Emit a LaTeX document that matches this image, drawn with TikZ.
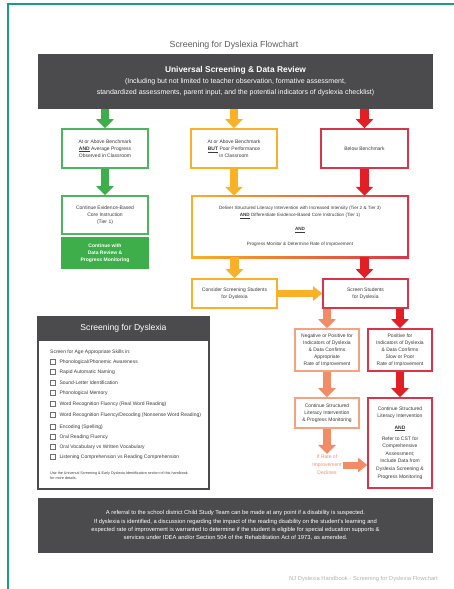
\documentclass[tikz,border=0pt]{standalone}
\usepackage{fontspec}
\setmainfont{Liberation Sans}
\usetikzlibrary{arrows.meta,calc,backgrounds,positioning}
\definecolor{teal1}{HTML}{1A9B86}
\definecolor{darkg}{HTML}{4B4B4D}
\definecolor{grn}{HTML}{3DAE49}
\definecolor{grnb}{HTML}{4DB560}
\definecolor{org}{HTML}{F9B128}
\definecolor{redA}{HTML}{E31F26}
\definecolor{crim}{HTML}{D8344B}
\definecolor{salm}{HTML}{F28C66}
\definecolor{salmb}{HTML}{F4A27F}
\definecolor{txt}{HTML}{3A3A3A}
\tikzset{
  box/.style={draw, line width=1.6pt, fill=white, align=center, inner sep=1pt, text=txt,
    font=\fontsize{5}{7}\selectfont},
  barrow/.style={line width=8.5pt, -{Triangle[width=17pt,length=9pt]}},
  harrow/.style={line width=7pt, -{Triangle[width=14pt,length=9pt]}},
  darkbox/.style={fill=darkg, text=white, align=center, inner sep=0pt},
  chkitem/.style={anchor=west, text=txt, inner sep=0pt, font=\fontsize{5}{6}\selectfont},
  cbox/.style={draw=darkg!80, line width=0.6pt, minimum size=5pt, inner sep=0pt},
}
\begin{document}
\begin{tikzpicture}[x=1pt,y=-1pt]
\useasboundingbox (0,0) rectangle (454,589);
\draw[teal1, line width=2pt] (7.5,589) -- (7.5,3.5) -- (454,3.5);

\node[font=\fontsize{8.8}{10}\selectfont, text=darkg!90] (title) at (234,45) {Screening for Dyslexia Flowchart};

\node[darkbox, minimum width=395pt, minimum height=55pt, font=\fontsize{7}{11}\selectfont] (hdr) at (235.5,81.5)
  {{\fontsize{8.4}{11}\selectfont\bfseries Universal Screening \& Data Review}\\
   (Including but not limited to teacher observation, formative assessment,\\
   standardized assessments, parent input, and the potential indicators of dyslexia checklist)};

% row 1
\node[box, draw=grnb, minimum width=86pt, minimum height=39pt] (g1) at (105,148.5)
  {At or Above Benchmark\\\underline{\textbf{AND}} Average Progress\\Observed in Classroom};
\node[box, draw=org, minimum width=86pt, minimum height=39pt] (o1) at (234,148.5)
  {At or Above Benchmark\\\underline{\textbf{BUT}} Poor Performance\\in Classroom};
\node[box, draw=crim, minimum width=87pt, minimum height=39pt] (r1) at (364.5,148.5)
  {Below Benchmark};

% row 2
\node[box, draw=grnb, minimum width=86pt, minimum height=38pt] (g2) at (105,215)
  {Continue Evidence-Based\\Core Instruction\\(Tier 1)};
\node[fill=grn, text=white, align=center, inner sep=0pt, minimum width=87.6pt, minimum height=32pt,
  font=\fontsize{5}{7}\selectfont\bfseries] (g3) at (105,253)
  {Continue with\\Data Review \&\\Progress Monitoring};

\node[align=center, inner sep=0pt, minimum width=216pt, minimum height=61pt, text=txt,
  font=\fontsize{4.6}{6.5}\selectfont] (big) at (300,226.5)
  {Deliver Structured Literacy Intervention with Increased Intensity (Tier 2 \& Tier 3)\\
   \underline{\textbf{AND}} Differentiate Evidence-Based Core Instruction (Tier 1)\\[8pt]
   \underline{\textbf{AND}}\\[8pt]
   Progress Monitor \& Determine Rate of Improvement};
\begin{pgfonlayer}{background}
  \shade[left color=org, right color=crim] ($(big.south west)+(-0.8pt,-0.8pt)$) rectangle ($(big.north east)+(0.8pt,0.8pt)$);
  \fill[white] ($(big.south west)+(0.8pt,0.8pt)$) rectangle ($(big.north east)+(-0.8pt,-0.8pt)$);
\end{pgfonlayer}

% row 3
\node[box, draw=org, minimum width=85pt, minimum height=29pt] (cons) at (234.5,293.5)
  {Consider Screening Students\\for Dyslexia};
\node[box, draw=crim, minimum width=85pt, minimum height=29pt] (scr) at (365.5,293.5)
  {Screen Students\\for Dyslexia};

% row 4
\node[box, draw=salmb, minimum width=64pt, minimum height=42pt] (neg) at (327,350)
  {Negative or Positive for\\Indicators of Dyslexia\\\& Data Confirms\\Appropriate\\Rate of Improvement};
\node[box, draw=crim, minimum width=64pt, minimum height=42pt] (pos) at (400,350)
  {Positive for\\Indicators of Dyslexia\\\& Data Confirms\\Slow or Poor\\Rate of Improvement};

% row 5
\node[box, draw=salmb, minimum width=64pt, minimum height=30pt] (cneg) at (327,413)
  {Continue Structured\\Literacy Intervention\\\& Progress Monitoring};
\node[box, draw=crim, minimum width=64pt, minimum height=90pt, font=\fontsize{5}{7.6}\selectfont] (cpos) at (400,443)
  {Continue Structured\\Literacy Intervention\\[3.5pt]\underline{\textbf{AND}}\\[3.5pt]Refer to CST for\\Comprehensive\\Assessment;\\Include Data from\\Dyslexia Screening \&\\Progress Monitoring};
\node[align=center, text=salm, inner sep=1pt, font=\fontsize{5}{8}\selectfont] (decl) at (327,465)
  {If Rate of\\Improvement\\Declines};

% arrows
\draw[barrow, grn] (g1.north |- hdr.south) -- (g1.north);
\draw[barrow, grn] (g1.south) -- (g2.north);
\draw[barrow, org] (o1.north |- hdr.south) -- (o1.north);
\draw[barrow, org] (o1.south) -- (o1.south |- big.north);
\draw[barrow, org] (big.south -| cons.north) -- (cons.north);
\draw[harrow, org] (cons.east) -- (scr.west);
\draw[barrow, redA] (r1.north |- hdr.south) -- (r1.north);
\draw[barrow, redA] (r1.south) -- (r1.south |- big.north);
\draw[barrow, redA] (big.south -| r1.south) -- (r1.south |- scr.north);
\draw[barrow, salm] (neg.north |- scr.south) -- (neg.north);
\draw[barrow, redA] (pos.north |- scr.south) -- (pos.north);
\draw[barrow, salm] (neg.south) -- (cneg.north);
\draw[barrow, redA] (pos.south) -- (cpos.north);
\draw[barrow, salm] (cneg.south) -- (decl.north);
\draw[harrow, salm] (decl.east) -- (decl.east -| cpos.west);

% checklist panel
\node[draw=darkg, line width=1.5pt, minimum width=171pt, minimum height=172pt, inner sep=0pt] (chk) at (123.5,403) {};
\node[darkbox, minimum width=172.5pt, minimum height=25pt, anchor=north, font=\fontsize{8.6}{10}\selectfont] (chkh) at ($(chk.north)+(0,0.75pt)$) {Screening for Dyslexia};
\node[chkitem] (it0) at (50,352) {Screen for Age Appropriate Skills in:};
\foreach \i/\y/\t in {1/362/{Phonological/Phonemic Awareness},
                      2/372/{Rapid Automatic Naming},
                      3/383/{Sound-Letter Identification},
                      4/393/{Phonological Memory},
                      5/404/{Word Recognition Fluency (Real Word Reading)},
                      6/415/{Word Recognition Fluency/Decoding (Nonsense Word Reading)},
                      7/427/{Encoding (Spelling)},
                      8/437/{Oral Reading Fluency},
                      9/447/{Oral Vocabulary vs Written Vocabulary},
                      10/457/{Listening Comprehension vs Reading Comprehension}} {
  \node[cbox] (cb\i) at (52.5,\y) {};
  \node[chkitem, right=4pt of cb\i] (it\i) {\t};
}
\node[anchor=north west, align=left, text=txt, inner sep=0pt, font=\fontsize{3.7}{5}\selectfont] (note) at (50,471.5)
  {Use the Universal Screening \& Early Dyslexia Identification section of this handbook\\for more details.};

% bottom box
\node[darkbox, minimum width=395pt, minimum height=55pt, font=\fontsize{5.8}{8.3}\selectfont] (bot) at (235.5,525.5)
  {A referral to the school district Child Study Team can be made at any point if a disability is suspected.\\
   If dyslexia is identified, a discussion regarding the impact of the reading disability on the student's learning and\\
   expected rate of improvement is warranted to determine if the student is eligible for special education supports \&\\
   services under IDEA and/or Section 504 of the Rehabilitation Act of 1973, as amended.};

\node[anchor=east, text=black!30, inner sep=0pt, font=\fontsize{5.8}{7}\selectfont] (foot) at (438,579)
  {NJ Dyslexia Handbook - Screening for Dyslexia Flowchart};
\end{tikzpicture}
\end{document}
